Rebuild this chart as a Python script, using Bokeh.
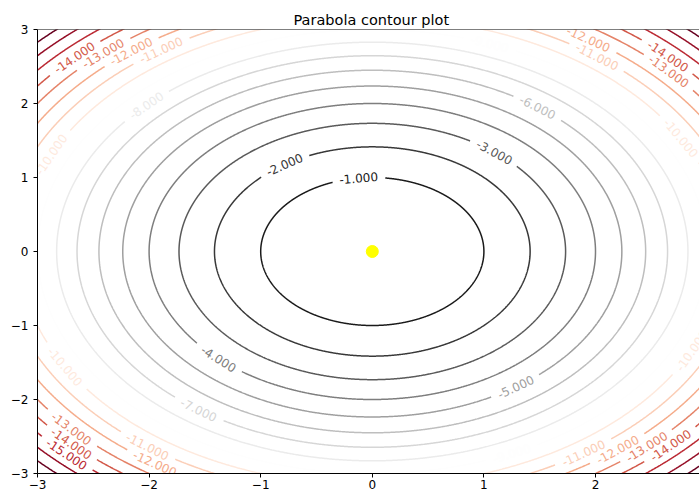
import numpy as np
from bokeh.plotting import figure
from bokeh.models import ColumnDataSource, FixedTicker, Span
from bokeh.core.properties import value
from bokeh.embed import file_html
from bokeh.resources import INLINE

# ---------------- data ----------------
TITLE = "Parabola contour plot"
# contour levels of z = -(x^2 + y^2)
LEVELS = [-17, -16, -15, -14, -13, -12, -11, -10, -9, -8, -7, -6, -5, -4, -3, -2, -1]
# RdGy colormap sampled at the levels (low = red, high = grey)
LEVEL_COLORS = ["#67001f", "#960f27", "#bb2a34", "#d25849", "#e58368", "#f5ac8b",
                "#fbceb7", "#fee9dd", "#fefefe", "#ebebeb", "#d6d6d6", "#bebebe",
                "#9f9f9f", "#7e7e7e", "#5a5a5a", "#383838", "#1a1a1a"]
# inline contour labels: level and polar angle (degrees) where the label sits
LABEL_LEVELS = [-1, -2, -3, -4, -5, -6, -7, -8, -9, -9,
                -10, -10, -10, -10,
                -11, -11, -11, -11,
                -12, -12, -12, -12,
                -13, -13, -13, -13,
                -14, -14, -14, -14,
                -15]
LABEL_ANGLES = [97.0, 123.8, 50.8, 226.5, 305.1, 52.8, 234.0, 135.7, 69.5, 294.6,
                155.5, 209.5, 29.0, 334.9,
                124.8, 52.6, 232.6, 304.8,
                128.6, 56.0, 235.8, 309.4,
                132.0, 42.5, 221.6, 313.0,
                135.5, 44.9, 223.9, 315.6,
                225.0]
CENTER_X = [0.0]
CENTER_Y = [0.0]
X_TICKS = [-3, -2, -1, 0, 1, 2, 3]
Y_TICKS = [-3, -2, -1, 0, 1, 2, 3]
TICK_TEXT = ["\u22123", "\u22122", "\u22121", "0", "1", "2", "3"]

# ---------------- layout ----------------
W, H = 699, 493
ML, MR, MT, MB = 37, 0, 29, 20
FW, FH = W - ML - MR, H - MT - MB
X0 = -3.0
X1 = X0 + FW / 111.6
Y0, Y1 = -3.0, 3.0
SX = FW / (X1 - X0)
SY = FH / (Y1 - Y0)
FONT = "DejaVu Sans"
LABEL_PX = 12
CHAR_W = {"-": 0.361, ".": 0.318}
GAP_PAD = 7


def label_width(s):
    return sum(CHAR_W.get(c, 0.636) for c in s) * LABEL_PX


p = figure(width=W, height=H, x_range=(X0, X1), y_range=(Y0, Y1),
           output_backend="svg", toolbar_location=None,
           min_border_left=ML, min_border_right=MR,
           min_border_top=MT, min_border_bottom=MB)
p.background_fill_color = "white"
p.border_fill_color = "white"
p.outline_line_color = None
p.grid.visible = False

# contour lines with gaps for the labels
seg_x, seg_y, seg_c = [], [], []
lab_x, lab_y, lab_t, lab_a, lab_c = [], [], [], [], []
for lev, col in zip(LEVELS, LEVEL_COLORS):
    r = np.sqrt(-lev)
    angs = [np.deg2rad(a) for l, a in zip(LABEL_LEVELS, LABEL_ANGLES) if l == lev]
    start = angs[0] if angs else 0.0
    th = start + np.linspace(0, 2 * np.pi, 2001)
    xs = r * np.cos(th)
    ys = r * np.sin(th)
    keep = np.ones(th.shape, dtype=bool)
    txt = f"{lev:.3f}"
    for a in angs:
        lx, ly = r * np.cos(a), r * np.sin(a)
        d = np.hypot((xs - lx) * SX, (ys - ly) * SY)
        keep &= d > label_width(txt) / 2 + GAP_PAD
        ang = np.arctan2(np.cos(a) * SY, -np.sin(a) * SX)
        if ang > np.pi / 2:
            ang -= np.pi
        if ang < -np.pi / 2:
            ang += np.pi
        lab_x.append(lx); lab_y.append(ly); lab_t.append(txt)
        lab_a.append(ang); lab_c.append(col)
    idx = np.where(keep)[0]
    if len(idx) == 0:
        continue
    breaks = np.where(np.diff(idx) > 1)[0]
    parts = np.split(idx, breaks + 1)
    for part in parts:
        if len(part) < 2:
            continue
        seg_x.append(xs[part].tolist())
        seg_y.append(ys[part].tolist())
        seg_c.append(col)

p.multi_line(xs="xs", ys="ys", line_color="c", line_width=1.5,
             source=ColumnDataSource(dict(xs=seg_x, ys=seg_y, c=seg_c)))

p.text(x="x", y="y", text="t", angle="a", text_color="c",
       text_font=value(FONT), text_font_size=f"{LABEL_PX}px",
       text_align="center", text_baseline="middle",
       source=ColumnDataSource(dict(x=lab_x, y=lab_y, t=lab_t, a=lab_a, c=lab_c)))

p.scatter(x=CENTER_X, y=CENTER_Y, size=12, fill_color="#ffff00", line_color="#ffff00")

# top spine
p.add_layout(Span(location=Y1, dimension="width", line_color="black", line_width=1))

# axes
for ax, ticks in ((p.xaxis[0], X_TICKS), (p.yaxis[0], Y_TICKS)):
    ax.ticker = FixedTicker(ticks=ticks)
    ax.major_label_overrides = {t: s for t, s in zip(ticks, TICK_TEXT)}
    ax.minor_tick_line_color = None
    ax.major_tick_in = 0
    ax.major_tick_out = 4
    ax.major_tick_line_color = "black"
    ax.axis_line_color = "black"
    ax.axis_line_width = 1
    ax.major_label_text_font = FONT
    ax.major_label_text_font_size = "12px"
    ax.major_label_text_color = "black"
p.xaxis.major_label_standoff = 2
p.yaxis.major_label_standoff = 5

p.title.text = TITLE
p.title.text_font = FONT
p.title.text_font_size = "14.5px"
p.title.text_font_style = "normal"
p.title.text_color = "black"
p.title.align = "left"
p.title.offset = 256
p.title.standoff = 4

open("out.html", "w").write(file_html(p, INLINE))
